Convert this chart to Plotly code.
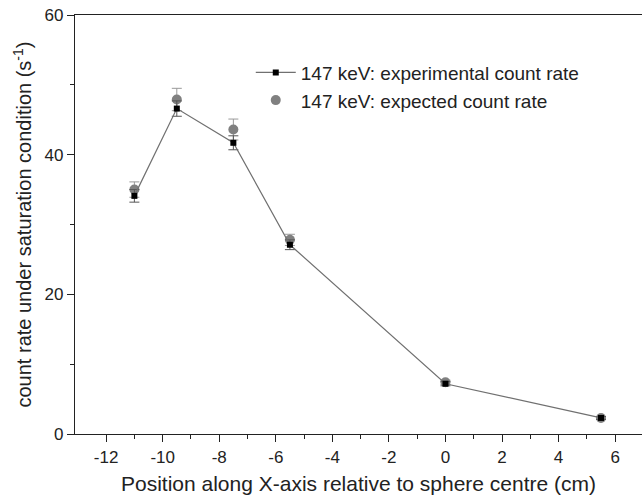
import plotly.graph_objects as go

positions = [-11, -9.5, -7.5, -5.5, 0, 5.5]
experimental = [34.1, 46.6, 41.7, 27.1, 7.2, 2.3]
experimental_err = [0.9, 1.1, 1.0, 0.7, 0.3, 0.2]
expected = [35.0, 47.9, 43.6, 27.8, 7.4, 2.3]
expected_err = [1.1, 1.6, 1.5, 0.8, 0.3, 0.2]

font_family = "Liberation Sans, Arial, sans-serif"

fig = go.Figure()
fig.add_trace(go.Scatter(
    x=positions, y=expected, mode="markers",
    name="147 keV: expected count rate",
    marker=dict(symbol="circle", size=10, color="#808080"),
    error_y=dict(type="data", array=expected_err, visible=True,
                 color="#999999", thickness=1, width=5),
    legendrank=2,
))
fig.add_trace(go.Scatter(
    x=positions, y=experimental, mode="lines+markers",
    name="147 keV: experimental count rate",
    line=dict(color="#707070", width=1.2),
    marker=dict(symbol="square", size=6, color="#000000"),
    error_y=dict(type="data", array=experimental_err, visible=True,
                 color="#555555", thickness=1, width=5),
    legendrank=1,
))

fig.update_layout(
    width=642, height=503,
    margin=dict(l=75, r=0, t=15, b=69),
    paper_bgcolor="white", plot_bgcolor="white",
    font=dict(family=font_family, size=17, color="#222222"),
    showlegend=True,
    legend=dict(x=0.31, y=0.908, xanchor="left", yanchor="top",
                font=dict(size=19, color="#222222"),
                bgcolor="rgba(0,0,0,0)", itemwidth=40, tracegroupgap=0),
    xaxis=dict(
        range=[-13.1, 6.95], tickmode="array",
        tickvals=[-12, -10, -8, -6, -4, -2, 0, 2, 4, 6],
        ticktext=["-12", "-10", "-8", "-6", "-4", "-2", "0", "2", "4", "6"],
        ticks="outside", ticklen=7, tickwidth=1, tickcolor="#222",
        minor=dict(tickvals=[-11, -9, -7, -5, -3, -1, 1, 3, 5], ticks="outside",
                   ticklen=4, tickcolor="#222"),
        showline=True, linecolor="#222", linewidth=1.2, mirror=True,
        showgrid=False, zeroline=False,
        tickfont=dict(size=17),
        title=dict(text="Position along X-axis relative to sphere centre (cm)",
                   font=dict(size=21), standoff=10),
    ),
    yaxis=dict(
        range=[0, 60], tickmode="array",
        tickvals=[0, 20, 40, 60], ticktext=["0", "20", "40", "60"],
        ticks="outside", ticklen=7, tickwidth=1, tickcolor="#222",
        minor=dict(tickvals=[10, 30, 50], ticks="outside", ticklen=4, tickcolor="#222"),
        showline=True, linecolor="#222", linewidth=1.2, mirror=False,
        showgrid=False, zeroline=False,
        tickfont=dict(size=17),
        title=dict(text="count rate under saturation condition (s<sup>-1</sup>)",
                   font=dict(size=20), standoff=7),
    ),
)

fig.write_html("out.html")
